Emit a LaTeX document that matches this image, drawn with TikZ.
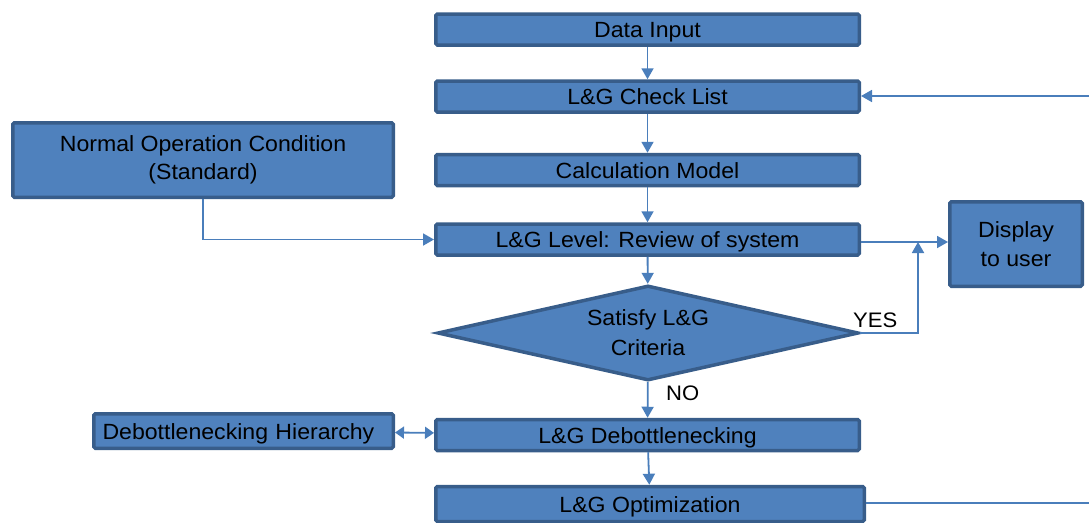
\documentclass[tikz,border=0pt]{standalone}
\usepackage{fontspec}
\setmainfont[FakeStretch=1.05]{Liberation Sans}
\usetikzlibrary{shapes.geometric,arrows.meta}
\definecolor{boxfill}{HTML}{4F81BD}
\definecolor{boxline}{HTML}{385D8A}
\definecolor{linkcol}{HTML}{4A7EBB}
\tikzset{
  box/.style={draw=boxline, fill=boxfill, line width=3.5pt, rounded corners=1.5pt,
    inner sep=0pt, align=center, font=\fontsize{22}{28.5}\selectfont, text=black},
  mainbox/.style={box, minimum width=423.5pt, minimum height=31pt, text height=16pt, text depth=0pt},
  decision/.style={diamond, draw=boxline, fill=boxfill, line width=3.5pt, aspect=4,
    inner sep=0pt, minimum width=421pt, minimum height=95pt, align=center,
    font=\fontsize{22}{30}\selectfont, text=black},
  link/.style={draw=linkcol, line width=1.8pt, -{Triangle[width=12pt,length=11pt]}},
  plainlink/.style={draw=linkcol, line width=1.8pt},
  lbl/.style={font=\fontsize{21}{24}\selectfont, text=black, inner sep=0pt}
}
\begin{document}
\begin{tikzpicture}[x=1pt, y=-1pt]
\useasboundingbox (0,0) rectangle (1089,522);
\node[mainbox] (data) at (647.5,29.5) {Data Input};
\node[mainbox] (check) at (647.5,96.5) {L\&G Check List};
\node[mainbox] (calc) at (647.5,170) {Calculation Model};
\node[mainbox] (level) at (647.5,239.5) {L\&G Level: Review of system};
\node[decision] (crit) at (648,333) {Satisfy L\&G\\Criteria};
\node[mainbox] (debot) at (647.5,435) {L\&G Debottlenecking};
\node[mainbox, minimum width=428.5pt, minimum height=35pt] (opt) at (650,504) {L\&G Optimization};
\node[box, minimum width=380.5pt, minimum height=74.5pt] (norm) at (203,160) {Normal Operation Condition\\(Standard)};
\node[box, minimum width=132.5pt, minimum height=84.5pt] (disp) at (1016,244) {Display\\to user};
\node[box, minimum width=299.5pt, minimum height=34.5pt, text width=282pt, align=left, text height=16pt, text depth=0pt] (hier) at (243.5,431) {Debottlenecking Hierarchy};
\node[lbl, anchor=south west] (yes) at (853,328) {YES};
\node[lbl, anchor=north west] (no) at (666,386) {NO};
\coordinate (join) at (918,242);
\coordinate (outR) at (1089,503);
\coordinate (inR) at (1089,96);
\draw[link] (data) -- (check);
\draw[link] (check) -- (calc);
\draw[link] (calc) -- (level);
\draw[link] (level) -- (crit);
\draw[link] (crit) -- (debot);
\draw[link] (debot) -- (opt);
\draw[link] (norm.south) |- (level.west);
\draw[link] (level.east |- join) -- (join -| disp.west);
\draw[link] (crit.east) -| (join);
\draw[draw=linkcol, line width=1.8pt, {Triangle[width=12pt,length=9pt]}-{Triangle[width=12pt,length=9pt]}] (hier) -- (debot);
\draw[plainlink] (opt.east |- outR) -- (outR);
\draw[link] (inR) -- (inR -| check.east);
\end{tikzpicture}
\end{document}
